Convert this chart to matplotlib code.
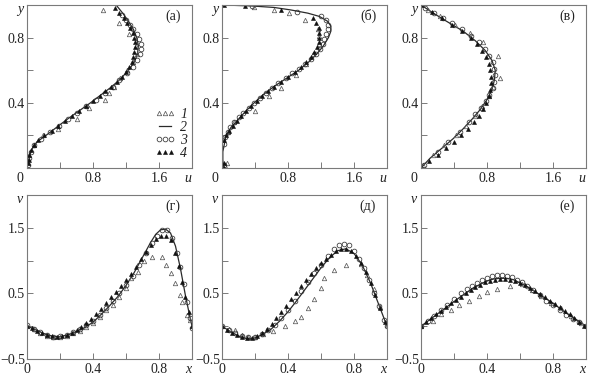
import matplotlib
matplotlib.use("Agg")
import matplotlib.pyplot as plt
from matplotlib.lines import Line2D

plt.rcParams['font.family'] = ['Liberation Serif', 'DejaVu Serif']
plt.rcParams['font.size'] = 10

# ---------------- DATA: u(y) profiles, panels (а) (б) (в) ----------------
# panel (а)
a_line_y = [0, 0.04, 0.08, 0.12, 0.16, 0.20, 0.25, 0.30, 0.35, 0.40, 0.45, 0.50, 0.55,
            0.60, 0.65, 0.70, 0.75, 0.80, 0.85, 0.90, 0.95, 1.00]
a_line_u = [0.0, 0.015, 0.035, 0.065, 0.12, 0.23, 0.36, 0.49, 0.63, 0.77, 0.90, 1.03, 1.14,
            1.23, 1.30, 1.34, 1.35, 1.33, 1.29, 1.23, 1.16, 1.08]
a_s3_y = [0.02, 0.06, 0.10, 0.14, 0.18, 0.22, 0.26, 0.30, 0.34, 0.38, 0.42, 0.46, 0.50,
          0.54, 0.58, 0.62, 0.66, 0.70, 0.73, 0.76, 0.79, 0.82, 0.85, 0.88, 0.91, 0.94]
a_s3_u = [0.01, 0.03, 0.05, 0.09, 0.17, 0.28, 0.39, 0.50, 0.60, 0.72, 0.84, 0.95, 1.04,
          1.12, 1.21, 1.28, 1.33, 1.37, 1.38, 1.38, 1.36, 1.33, 1.29, 1.25, 1.20, 1.15]
a_s4_y = [0.00, 0.03, 0.05, 0.08, 0.11, 0.14, 0.17, 0.20, 0.23, 0.26, 0.29, 0.32, 0.35,
          0.38, 0.41, 0.44, 0.47, 0.50, 0.53, 0.56, 0.59, 0.62, 0.65, 0.68, 0.71, 0.74,
          0.77, 0.80, 0.83, 0.86, 0.89, 0.92, 0.95, 0.98]
a_s4_u = [0.0, 0.01, 0.02, 0.03, 0.05, 0.08, 0.13, 0.21, 0.30, 0.38, 0.46, 0.55, 0.63,
          0.71, 0.80, 0.88, 0.95, 1.02, 1.09, 1.15, 1.20, 1.24, 1.27, 1.29, 1.30, 1.31,
          1.31, 1.30, 1.28, 1.25, 1.21, 1.17, 1.12, 1.07]
a_s1_y = [0.03, 0.08, 0.14, 0.20, 0.24, 0.30, 0.37, 0.42, 0.46, 0.50, 0.55, 0.60, 0.65,
          0.70, 0.75, 0.82, 0.89, 0.97]
a_s1_u = [0.01, 0.03, 0.08, 0.19, 0.38, 0.61, 0.75, 0.94, 0.99, 1.05, 1.13, 1.21, 1.28,
          1.33, 1.32, 1.24, 1.12, 0.92]

# panel (б)
b_line_y = [0, 0.05, 0.10, 0.15, 0.20, 0.25, 0.30, 0.35, 0.40, 0.45, 0.50, 0.55, 0.60,
            0.65, 0.70, 0.75, 0.80, 0.84, 0.87, 0.90, 0.93, 0.95, 0.97, 0.985, 0.994, 1.0]
b_line_u = [0.02, 0.01, 0.01, 0.03, 0.05, 0.11, 0.20, 0.29, 0.39, 0.50, 0.63, 0.78, 0.93,
            1.05, 1.15, 1.23, 1.29, 1.32, 1.32, 1.28, 1.18, 1.04, 0.83, 0.63, 0.36, 0.02]
b_s3_y = [0.02, 0.15, 0.19, 0.22, 0.25, 0.28, 0.31, 0.34, 0.37, 0.40, 0.43, 0.46, 0.49,
          0.52, 0.55, 0.58, 0.61, 0.64, 0.67, 0.70, 0.73, 0.76, 0.79, 0.82, 0.85, 0.88,
          0.91, 0.935, 0.96, 0.993]
b_s3_u = [0.02, 0.02, 0.04, 0.07, 0.10, 0.15, 0.21, 0.26, 0.33, 0.39, 0.46, 0.53, 0.60,
          0.68, 0.77, 0.85, 0.93, 1.01, 1.08, 1.14, 1.19, 1.22, 1.24, 1.26, 1.28, 1.28,
          1.26, 1.20, 0.91, 0.36]
b_s4_y = [0.0, 0.03, 0.17, 0.20, 0.23, 0.26, 0.29, 0.32, 0.35, 0.38, 0.41, 0.44, 0.47,
          0.50, 0.53, 0.56, 0.59, 0.62, 0.65, 0.68, 0.71, 0.74, 0.77, 0.80, 0.83, 0.86,
          0.89, 0.92, 0.97, 0.995, 1.0]
b_s4_u = [0.02, 0.03, 0.03, 0.05, 0.09, 0.13, 0.18, 0.23, 0.29, 0.35, 0.42, 0.48, 0.56,
          0.63, 0.71, 0.80, 0.88, 0.96, 1.02, 1.08, 1.12, 1.15, 1.17, 1.18, 1.18, 1.17,
          1.14, 1.10, 0.71, 0.28, 0.02]
b_s1_y = [0.01, 0.03, 0.22, 0.28, 0.35, 0.44, 0.49, 0.57, 0.64, 0.70, 0.76, 0.81, 0.85,
          0.91, 0.95, 0.97, 0.99]
b_s1_u = [0.04, 0.06, 0.07, 0.15, 0.40, 0.57, 0.71, 0.90, 1.02, 1.10, 1.17, 1.18, 1.16,
          1.00, 0.81, 0.63, 0.39]

# panel (в)
c_line_y = [0, 0.06, 0.12, 0.18, 0.24, 0.30, 0.36, 0.42, 0.48, 0.54, 0.60, 0.66, 0.72,
            0.78, 0.84, 0.90, 0.95, 1.0]
c_line_u = [0.0, 0.11, 0.25, 0.39, 0.51, 0.62, 0.72, 0.80, 0.86, 0.89, 0.90, 0.86, 0.78,
            0.66, 0.51, 0.31, 0.15, 0.0]
c_s3_y = [0.02, 0.10, 0.16, 0.22, 0.28, 0.33, 0.37, 0.41, 0.45, 0.49, 0.53, 0.57, 0.61,
          0.65, 0.69, 0.73, 0.77, 0.81, 0.85, 0.89, 0.92, 0.95, 0.98]
c_s3_u = [0.04, 0.20, 0.33, 0.47, 0.58, 0.66, 0.73, 0.79, 0.83, 0.87, 0.89, 0.90, 0.89,
          0.87, 0.83, 0.77, 0.70, 0.61, 0.50, 0.37, 0.27, 0.16, 0.05]
c_s4_y = [0.0, 0.04, 0.08, 0.12, 0.16, 0.20, 0.24, 0.28, 0.32, 0.36, 0.40, 0.44, 0.48,
          0.52, 0.56, 0.60, 0.64, 0.68, 0.72, 0.76, 0.80, 0.84, 0.88, 0.92, 0.96, 1.0]
c_s4_u = [0.0, 0.10, 0.20, 0.30, 0.40, 0.49, 0.57, 0.64, 0.70, 0.75, 0.79, 0.82, 0.84,
          0.85, 0.85, 0.84, 0.82, 0.79, 0.74, 0.68, 0.60, 0.50, 0.38, 0.26, 0.13, 0.0]
c_s1_y = [0.02, 0.08, 0.14, 0.20, 0.26, 0.32, 0.38, 0.44, 0.50, 0.55, 0.69, 0.77, 0.83,
          0.88, 0.93, 0.97]
c_s1_u = [0.03, 0.15, 0.28, 0.42, 0.55, 0.65, 0.74, 0.82, 0.87, 0.96, 0.93, 0.75, 0.59,
          0.41, 0.23, 0.09]

# ---------------- DATA: v(x) profiles, panels (г) (д) (е) ----------------
# panel (г)
d_line_x = [0, 0.05, 0.10, 0.15, 0.20, 0.25, 0.30, 0.35, 0.40, 0.45, 0.50, 0.55, 0.60,
            0.65, 0.70, 0.75, 0.78, 0.81, 0.84, 0.87, 0.90, 0.93, 0.96, 0.98, 1.0]
d_line_v = [0.0, -0.05, -0.11, -0.15, -0.16, -0.13, -0.08, -0.02, 0.06, 0.18, 0.31, 0.45,
            0.62, 0.82, 1.05, 1.28, 1.40, 1.47, 1.48, 1.42, 1.22, 0.88, 0.47, 0.23, 0.0]
d_s3_x = [0.0, 0.04, 0.08, 0.12, 0.16, 0.20, 0.24, 0.28, 0.32, 0.36, 0.40, 0.44, 0.48,
          0.52, 0.56, 0.60, 0.64, 0.68, 0.72, 0.76, 0.79, 0.82, 0.85, 0.88, 0.91, 0.93,
          0.95, 0.97, 0.99, 1.0]
d_s3_v = [0.02, -0.04, -0.09, -0.14, -0.16, -0.15, -0.13, -0.09, -0.04, 0.02, 0.08, 0.17,
          0.27, 0.38, 0.51, 0.63, 0.77, 0.93, 1.11, 1.27, 1.38, 1.46, 1.46, 1.35, 1.12,
          0.90, 0.64, 0.37, 0.12, -0.03]
d_s4_x = [0.0, 0.03, 0.06, 0.09, 0.12, 0.15, 0.18, 0.21, 0.24, 0.27, 0.30, 0.33, 0.36,
          0.39, 0.42, 0.45, 0.48, 0.51, 0.54, 0.57, 0.60, 0.63, 0.66, 0.69, 0.72, 0.75,
          0.78, 0.81, 0.84, 0.87, 0.90, 0.92, 0.94, 0.96, 0.98, 1.0]
d_s4_v = [0.01, -0.03, -0.07, -0.10, -0.13, -0.15, -0.16, -0.15, -0.13, -0.10, -0.06,
          -0.01, 0.05, 0.11, 0.18, 0.26, 0.35, 0.44, 0.52, 0.61, 0.70, 0.80, 0.91, 1.02,
          1.13, 1.24, 1.33, 1.38, 1.38, 1.32, 1.11, 0.92, 0.68, 0.45, 0.22, 0.0]
d_s1_x = [0.0, 0.04, 0.08, 0.12, 0.16, 0.20, 0.24, 0.28, 0.32, 0.36, 0.40, 0.44, 0.48,
          0.52, 0.56, 0.60, 0.63, 0.67, 0.71, 0.76, 0.82, 0.845, 0.87, 0.90, 0.93, 0.94,
          0.97, 0.99, 1.0]
d_s1_v = [0.0, -0.05, -0.10, -0.15, -0.17, -0.17, -0.15, -0.11, -0.07, -0.01, 0.05, 0.14,
          0.24, 0.33, 0.44, 0.58, 0.73, 0.83, 1.00, 1.06, 1.05, 0.93, 0.81, 0.66, 0.47,
          0.37, 0.17, 0.09, 0.0]

# panel (д)
e_line_x = [0, 0.05, 0.10, 0.15, 0.20, 0.25, 0.30, 0.35, 0.40, 0.45, 0.50, 0.55, 0.60,
            0.65, 0.70, 0.75, 0.80, 0.85, 0.90, 0.95, 1.0]
e_line_v = [0.0, -0.08, -0.15, -0.19, -0.18, -0.12, -0.04, 0.08, 0.22, 0.38, 0.55, 0.72,
            0.89, 1.04, 1.15, 1.18, 1.11, 0.93, 0.66, 0.33, 0.0]
e_s3_x = [0.0, 0.04, 0.08, 0.12, 0.16, 0.20, 0.24, 0.28, 0.32, 0.36, 0.40, 0.44, 0.48,
          0.52, 0.56, 0.60, 0.64, 0.68, 0.71, 0.74, 0.77, 0.80, 0.83, 0.86, 0.89, 0.92,
          0.95, 0.98, 1.0]
e_s3_v = [0.01, -0.06, -0.10, -0.15, -0.17, -0.17, -0.12, -0.06, 0.02, 0.13, 0.25, 0.39,
          0.54, 0.68, 0.81, 0.94, 1.07, 1.18, 1.24, 1.26, 1.24, 1.15, 1.02, 0.88, 0.70,
          0.51, 0.31, 0.10, 0.0]
e_s4_x = [0.0, 0.03, 0.06, 0.09, 0.12, 0.15, 0.18, 0.21, 0.24, 0.27, 0.30, 0.33, 0.36,
          0.39, 0.42, 0.45, 0.48, 0.51, 0.54, 0.57, 0.60, 0.63, 0.66, 0.69, 0.72, 0.75,
          0.78, 0.81, 0.84, 0.87, 0.90, 0.93, 0.96, 0.99]
e_s4_v = [0.0, -0.06, -0.10, -0.14, -0.17, -0.18, -0.18, -0.15, -0.10, -0.04, 0.03, 0.12,
          0.21, 0.31, 0.41, 0.51, 0.61, 0.71, 0.80, 0.88, 0.96, 1.03, 1.09, 1.14, 1.17,
          1.17, 1.14, 1.07, 0.96, 0.82, 0.66, 0.47, 0.27, 0.06]
e_s1_x = [0.0, 0.04, 0.08, 0.12, 0.16, 0.20, 0.25, 0.31, 0.38, 0.44, 0.48, 0.52, 0.56,
          0.60, 0.62, 0.68, 0.75, 0.84, 0.88, 0.92, 0.96, 1.0]
e_s1_v = [0.0, -0.05, -0.06, -0.14, -0.17, -0.16, -0.12, -0.08, 0.0, 0.08, 0.14, 0.28,
          0.41, 0.58, 0.73, 0.86, 0.93, 0.95, 0.78, 0.56, 0.30, 0.02]

# panel (е)
f_line_x = [0, 0.08, 0.16, 0.24, 0.32, 0.40, 0.44, 0.48, 0.52, 0.56, 0.64, 0.72, 0.80,
            0.88, 0.96, 1.0]
f_line_v = [0.0, 0.15, 0.30, 0.45, 0.59, 0.69, 0.72, 0.73, 0.73, 0.71, 0.61, 0.48, 0.35,
            0.20, 0.07, 0.0]
f_s3_x = [0.0, 0.04, 0.08, 0.12, 0.16, 0.20, 0.24, 0.28, 0.31, 0.34, 0.37, 0.40, 0.43,
          0.46, 0.49, 0.52, 0.55, 0.58, 0.61, 0.64, 0.68, 0.72, 0.76, 0.80, 0.84, 0.88,
          0.92, 0.96, 1.0]
f_s3_v = [0.0, 0.08, 0.16, 0.25, 0.33, 0.41, 0.50, 0.57, 0.62, 0.66, 0.70, 0.74, 0.76,
          0.78, 0.78, 0.77, 0.75, 0.71, 0.67, 0.61, 0.55, 0.47, 0.39, 0.32, 0.25, 0.17,
          0.11, 0.06, 0.0]
f_s4_x = [0.0, 0.03, 0.06, 0.09, 0.12, 0.15, 0.18, 0.21, 0.24, 0.27, 0.30, 0.33, 0.36,
          0.39, 0.42, 0.45, 0.48, 0.51, 0.54, 0.57, 0.60, 0.63, 0.66, 0.69, 0.72, 0.75,
          0.78, 0.81, 0.84, 0.87, 0.90, 0.93, 0.96, 0.99]
f_s4_v = [0.0, 0.06, 0.12, 0.18, 0.23, 0.29, 0.35, 0.40, 0.45, 0.51, 0.55, 0.60, 0.63,
          0.67, 0.69, 0.71, 0.72, 0.72, 0.71, 0.69, 0.66, 0.63, 0.58, 0.54, 0.49, 0.44,
          0.39, 0.34, 0.29, 0.23, 0.18, 0.12, 0.07, 0.01]
f_s1_x = [0.0, 0.07, 0.12, 0.18, 0.23, 0.29, 0.35, 0.40, 0.46, 0.54, 0.61, 0.67, 0.73,
          0.79, 0.85, 0.91, 0.97]
f_s1_v = [0.0, 0.08, 0.18, 0.25, 0.32, 0.38, 0.46, 0.52, 0.57, 0.62, 0.65, 0.55, 0.46,
          0.36, 0.27, 0.16, 0.05]

panel_names = ['(а)', '(б)', '(в)', '(г)', '(д)', '(е)']
legend_labels = ['1', '2', '3', '4']

# ---------------- STYLE ----------------
SPINE = '#7a7a7a'
TXT = '#222222'
s1_kw = dict(ls='none', marker='^', ms=3.2, mfc='none', mec='#5a5a5a', mew=0.55)
s2_kw = dict(ls='-', color='#2a2a2a', lw=0.9)
s3_kw = dict(ls='none', marker='o', ms=3.4, mfc='none', mec='#333333', mew=0.55)
s4_kw = dict(ls='none', marker='^', ms=2.9, mfc='#111111', mec='#111111', mew=0.4)

fig = plt.figure(figsize=(5.89, 3.77), dpi=100)

lefts = [27 / 589, 222 / 589, 421 / 589]
width = 165 / 589
top_row = (1 - 168 / 377, 163 / 377)
bot_row = (1 - 359 / 377, 164 / 377)


def style_axes(ax, xlab, ylab, name, shift_zero):
    for s in ax.spines.values():
        s.set_color(SPINE)
        s.set_linewidth(0.8)
    ax.tick_params(direction='in', length=4, width=0.7, color=SPINE,
                   labelcolor=TXT, labelsize=10, top=False, right=False, pad=3)
    ax.tick_params(axis='y', pad=1.5)
    if shift_zero:
        ax.annotate('0', xy=(0, 0), xycoords='axes fraction', xytext=(-5, -3),
                    textcoords='offset points', ha='center', va='top',
                    fontsize=10, color=TXT)
    ax.annotate(xlab, xy=(0.975, 0), xycoords='axes fraction', xytext=(0, -3),
                textcoords='offset points', ha='center', va='top',
                fontsize=10, style='italic', color=TXT)
    ax.annotate(ylab, xy=(0, 1), xycoords='axes fraction', xytext=(-5, -3),
                textcoords='offset points', ha='center', va='center',
                fontsize=10, style='italic', color=TXT)
    ax.text(0.885, 0.93, name, transform=ax.transAxes, ha='center', va='center',
            fontsize=10, color=TXT)


top_data = [
    (a_line_u, a_line_y, a_s1_u, a_s1_y, a_s3_u, a_s3_y, a_s4_u, a_s4_y),
    (b_line_u, b_line_y, b_s1_u, b_s1_y, b_s3_u, b_s3_y, b_s4_u, b_s4_y),
    (c_line_u, c_line_y, c_s1_u, c_s1_y, c_s3_u, c_s3_y, c_s4_u, c_s4_y),
]
bot_data = [
    (d_line_x, d_line_v, d_s1_x, d_s1_v, d_s3_x, d_s3_v, d_s4_x, d_s4_v),
    (e_line_x, e_line_v, e_s1_x, e_s1_v, e_s3_x, e_s3_v, e_s4_x, e_s4_v),
    (f_line_x, f_line_v, f_s1_x, f_s1_v, f_s3_x, f_s3_v, f_s4_x, f_s4_v),
]

axes_top = []
for i, d in enumerate(top_data):
    ax = fig.add_axes([lefts[i], top_row[0], width, top_row[1]])
    lx, ly, x1, y1, x3, y3, x4, y4 = d
    ax.plot(lx, ly, **s2_kw)
    ax.plot(x1, y1, **s1_kw)
    ax.plot(x3, y3, **s3_kw)
    ax.plot(x4, y4, **s4_kw)
    ax.set_xlim(0, 2.0)
    ax.set_ylim(0, 1.0)
    ax.set_xticks([0, 0.4, 0.8, 1.2, 1.6, 2.0], ['', '', '0.8', '', '1.6', ''])
    ax.set_yticks([0, 0.2, 0.4, 0.6, 0.8, 1.0], ['', '', '0.4', '', '0.8', ''])
    style_axes(ax, 'u', 'y', panel_names[i], True)
    axes_top.append(ax)

for i, d in enumerate(bot_data):
    ax = fig.add_axes([lefts[i], bot_row[0], width, bot_row[1]])
    lx, ly, x1, y1, x3, y3, x4, y4 = d
    ax.plot(lx, ly, **s2_kw)
    ax.plot(x1, y1, **s1_kw)
    ax.plot(x3, y3, **s3_kw)
    ax.plot(x4, y4, **s4_kw)
    ax.set_xlim(0, 1.0)
    ax.set_ylim(-0.5, 2.0)
    ax.set_xticks([0, 0.2, 0.4, 0.6, 0.8, 1.0], ['0', '', '0.4', '', '0.8', ''])
    ax.set_yticks([-0.5, 0, 0.5, 1.0, 1.5, 2.0], ['\u22120.5', '', '0.5', '', '1.5', ''])
    style_axes(ax, 'x', 'v', panel_names[3 + i], False)

# legend in panel (а)
handles = [Line2D([], [], **s1_kw), Line2D([], [], **s2_kw),
           Line2D([], [], **s3_kw), Line2D([], [], **s4_kw)]
leg = axes_top[0].legend(handles, legend_labels, loc='lower right',
                         bbox_to_anchor=(1.03, -0.01), frameon=False, numpoints=3,
                         handlelength=1.4, handletextpad=0.4, labelspacing=0.0,
                         borderpad=0.2, prop={'family': 'Liberation Serif',
                                              'style': 'italic', 'size': 10})
for t in leg.get_texts():
    t.set_color(TXT)

fig.savefig('out.png', dpi=100)
